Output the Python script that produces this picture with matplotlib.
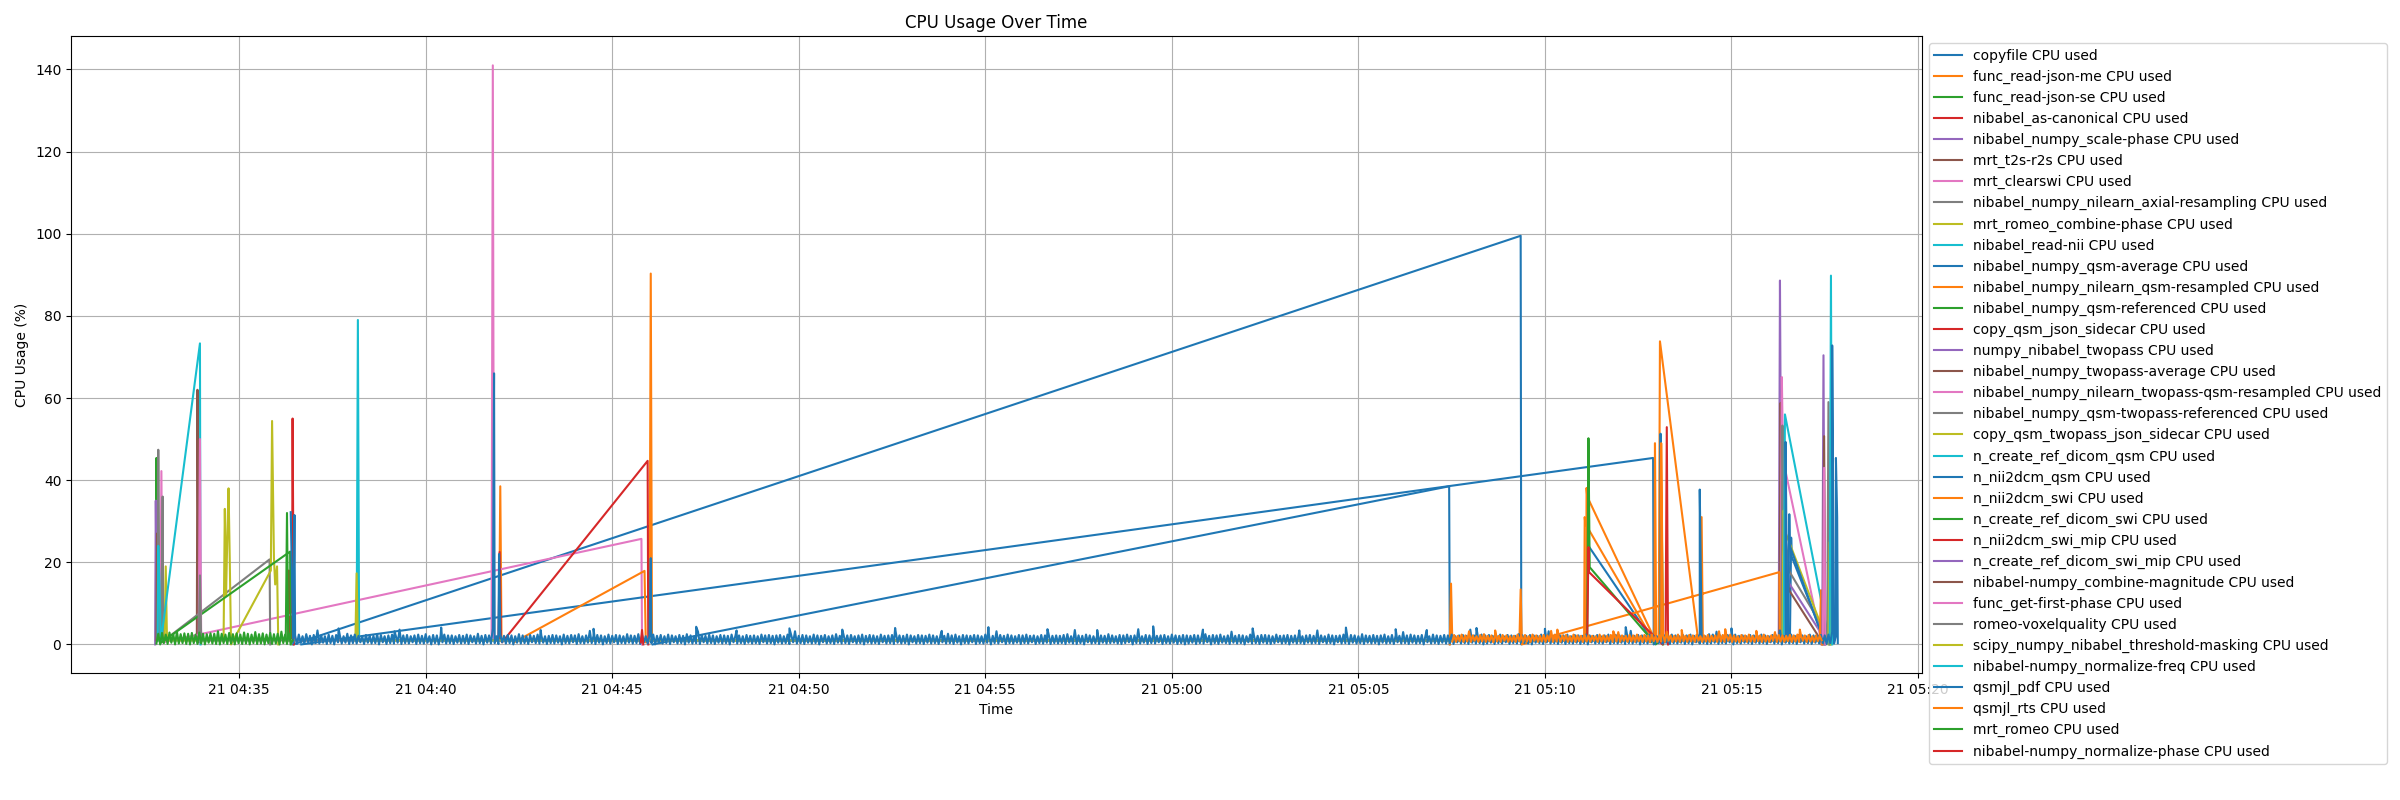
import matplotlib
matplotlib.use("Agg")
import matplotlib.pyplot as plt
import pandas as pd

DAY = "2024-05-21 "

series_names = [
    "copyfile", "func_read-json-me", "func_read-json-se", "nibabel_as-canonical",
    "nibabel_numpy_scale-phase", "mrt_t2s-r2s", "mrt_clearswi",
    "nibabel_numpy_nilearn_axial-resampling", "mrt_romeo_combine-phase",
    "nibabel_read-nii", "nibabel_numpy_qsm-average",
    "nibabel_numpy_nilearn_qsm-resampled", "nibabel_numpy_qsm-referenced",
    "copy_qsm_json_sidecar", "numpy_nibabel_twopass", "nibabel_numpy_twopass-average",
    "nibabel_numpy_nilearn_twopass-qsm-resampled", "nibabel_numpy_qsm-twopass-referenced",
    "copy_qsm_twopass_json_sidecar", "n_create_ref_dicom_qsm", "n_nii2dcm_qsm",
    "n_nii2dcm_swi", "n_create_ref_dicom_swi", "n_nii2dcm_swi_mip",
    "n_create_ref_dicom_swi_mip", "nibabel-numpy_combine-magnitude",
    "func_get-first-phase", "romeo-voxelquality",
    "scipy_numpy_nibabel_threshold-masking", "nibabel-numpy_normalize-freq",
    "qsmjl_pdf", "qsmjl_rts", "mrt_romeo", "nibabel-numpy_normalize-phase",
]

copyfile_t = ["04:36:27", "05:09:21", "05:09:22", "05:09:23", "05:11:07", "05:11:09", "05:11:10", "05:12:53"]
copyfile_v = [0.0, 99.5, 0.0, 1.0, 1.0, 25.3, 24.0, 1.0]

json_me_t = ["04:41:58", "04:42:00", "04:42:02", "05:11:06", "05:11:07", "05:11:08", "05:12:58"]
json_me_v = [1.0, 38.5, 1.0, 1.0, 38.1, 36.0, 0.8]

json_se_t = ["04:32:46", "04:32:47", "04:32:49"]
json_se_v = [1.0, 45.4, 1.5]

canonical_t = ["04:36:19", "04:36:20", "04:36:22", "04:36:25", "04:36:26", "04:36:28"]
canonical_v = [1.0, 18.0, 1.0, 1.0, 55.0, 0.0]

scale_phase_t = ["04:32:45", "04:32:46", "04:32:48"]
scale_phase_v = [0.0, 35.0, 1.0]

t2s_t = ["04:32:47", "04:32:48", "04:32:50", "04:33:52", "04:33:53", "04:33:55"]
t2s_v = [1.0, 27.0, 1.0, 1.0, 62.0, 0.5]

clearswi_t = ["04:32:53", "04:32:55", "04:32:57", "04:45:47", "04:45:48"]
clearswi_v = [0.5, 42.2, 0.5, 25.7, 0.0]

axial_t = ["04:32:49", "04:32:50", "04:32:52", "04:32:55", "04:32:57", "04:32:58", "04:35:49", "04:35:50"]
axial_v = [1.0, 47.4, 3.0, 1.0, 36.0, 0.8, 20.7, 0.0]

combine_phase_t = ["04:33:00", "04:33:02", "04:33:04", "04:34:35", "04:34:37", "04:34:39",
                   "04:34:41", "04:34:43", "04:34:45", "04:34:47", "04:35:51", "04:35:53",
                   "04:35:56", "04:35:58", "04:36:01", "04:36:03"]
combine_phase_v = [1.0, 19.0, 1.0, 1.0, 33.0, 12.0, 26.0, 38.0, 20.0, 0.0, 18.0, 54.4,
                   21.0, 14.6, 19.0, 0.0]

read_nii_t = ["04:32:49", "04:32:50", "04:32:52", "04:32:54", "04:33:57", "04:33:58"]
read_nii_v = [1.0, 24.0, 15.0, 0.5, 73.3, 0.0]

qsm_average_t = ["04:36:40", "05:12:54", "05:12:55", "05:12:56", "05:16:34", "05:16:36", "05:16:37", "05:17:30"]
qsm_average_v = [0.0, 45.4, 0.0, 1.0, 1.0, 26.0, 21.3, 1.0]

qsm_resampled_t = ["04:42:22", "04:45:52", "04:45:54", "04:46:00", "04:46:02", "04:46:04",
                   "05:11:03", "05:11:04", "05:11:05", "05:12:56", "05:12:57", "05:12:59"]
qsm_resampled_v = [0.5, 17.9, 0.5, 1.0, 90.3, 1.0, 1.0, 31.0, 29.4, 0.5, 49.0, 1.0]

qsm_referenced_t = ["04:32:55", "04:36:22", "04:36:23"]
qsm_referenced_v = [0.5, 22.6, 0.0]

qsm_sidecar_t = ["04:41:57", "04:41:59", "04:42:01", "04:42:03", "04:45:57", "04:45:58"]
qsm_sidecar_v = [1.0, 22.5, 1.0, 0.5, 44.7, 0.0]

twopass_t = ["05:16:16", "05:16:18", "05:16:20", "05:16:33", "05:17:28", "05:17:29"]
twopass_v = [1.0, 88.6, 30.0, 14.8, 1.8, 0.0]

twopass_avg_t = ["05:16:17", "05:16:19", "05:16:21", "05:16:33", "05:17:24", "05:17:25"]
twopass_avg_v = [1.0, 58.8, 25.0, 13.1, 1.0, 0.0]

twopass_resampled_t = ["05:16:19", "05:16:21", "05:16:23", "05:17:25", "05:17:26"]
twopass_resampled_v = [1.0, 65.1, 45.0, 0.5, 0.0]

twopass_referenced_t = ["05:16:20", "05:16:22", "05:16:24", "05:16:33", "05:17:25", "05:17:27"]
twopass_referenced_v = [1.0, 53.3, 30.0, 17.8, 4.6, 0.0]

twopass_sidecar_t = ["05:16:22", "05:16:24", "05:16:25", "05:17:36"]
twopass_sidecar_v = [1.0, 32.6, 28.0, 0.0]

ref_dicom_qsm_t = ["04:38:09", "04:38:11", "04:38:13", "05:16:24", "05:16:26", "05:17:38"]
ref_dicom_qsm_v = [1.0, 79.0, 1.0, 1.0, 56.0, 0.0]

nii2dcm_qsm_t = ["04:46:05", "05:07:26", "05:07:27", "05:07:28", "05:16:31", "05:16:33", "05:16:34", "05:17:28"]
nii2dcm_qsm_v = [0.0, 38.5, 0.0, 1.0, 1.0, 31.7, 24.0, 1.0]

nii2dcm_swi_t = ["05:07:27", "05:07:29", "05:07:31", "05:09:19", "05:09:21", "05:09:23",
                 "05:16:17", "05:16:18", "05:13:03", "05:13:05", "05:14:07", "05:14:10",
                 "05:14:12", "05:14:14", "05:17:22", "05:17:24", "05:17:26"]
nii2dcm_swi_v = [0.0, 14.8, 1.0, 1.0, 13.4, 0.0, 17.6, 0.8, 1.0, 73.8, 0.5, 1.0,
                 31.0, 1.0, 1.0, 13.2, 0.0]

ref_dicom_swi_t = ["04:36:15", "04:36:17", "04:36:19", "05:11:08", "05:11:10", "05:11:12",
                   "05:12:58", "05:13:06", "05:13:08", "05:13:10"]
ref_dicom_swi_v = [1.0, 32.0, 1.0, 1.0, 50.2, 18.8, 0.0, 1.0, 28.6, 0.0]

nii2dcm_swi_mip_t = ["05:11:08", "05:11:10", "05:11:11", "05:13:09", "05:13:14", "05:13:16", "05:13:18"]
nii2dcm_swi_mip_v = [1.0, 23.7, 17.6, 0.0, 1.0, 52.9, 0.0]

ref_dicom_swi_mip_t = ["05:17:26", "05:17:28", "05:17:30"]
ref_dicom_swi_mip_v = [1.0, 70.4, 0.0]

combine_mag_t = ["05:17:27", "05:17:29", "05:17:31"]
combine_mag_v = [1.0, 50.7, 0.0]

first_phase_t = ["04:33:55", "04:33:57", "04:33:59", "04:41:46", "04:41:48", "04:41:50",
                 "05:17:27", "05:17:29", "05:17:31"]
first_phase_v = [1.0, 50.0, 1.0, 1.0, 141.0, 1.0, 1.0, 43.0, 0.0]

voxelquality_t = ["04:33:55", "04:33:57", "04:33:59", "05:17:34", "05:17:36", "05:17:38"]
voxelquality_v = [1.0, 16.8, 1.0, 1.0, 59.0, 0.0]

masking_t = ["04:38:07", "04:38:09", "04:38:11", "05:17:36", "05:17:38", "05:17:40"]
masking_v = [1.0, 17.3, 1.0, 1.0, 24.9, 0.0]

normalize_freq_t = ["05:17:38", "05:17:40", "05:17:42"]
normalize_freq_v = [1.0, 89.8, 0.0]

# qsmjl_pdf: samples every 3 s from 04:36:27, plus peaks
pdf_band_start = "04:36:27"
pdf_band_step_s = 3
pdf_band_v = [
    0.3, 2.2, 0.1, 2.4, 0.4, 2.0, 0.2, 2.5, 0.5, 2.1, 0.0, 2.3, 0.3, 3.4, 0.2, 2.2, 0.4, 2.0, 0.1, 2.4,
    0.3, 2.1, 0.0, 2.3, 0.5, 2.2, 0.2, 2.0, 0.4, 2.6, 0.1, 2.2, 0.3, 2.4, 0.2, 2.1, 0.5, 2.0, 0.1, 2.3,
    0.4, 2.2, 0.2, 2.1, 0.3, 2.5, 0.0, 2.3, 0.5, 2.0, 0.1, 2.2, 0.3, 2.4, 0.2, 2.1, 0.4, 3.6, 0.1, 2.2,
    0.3, 2.3, 0.2, 2.0, 0.5, 2.2, 0.1, 2.4, 0.3, 2.1, 0.2, 2.5, 0.4, 2.0, 0.0, 2.3, 0.3, 2.2, 0.0, 2.1,
    0.5, 2.4, 0.2, 2.2, 0.3, 2.2, 0.1, 2.0, 0.4, 2.3, 0.2, 2.1, 0.3, 2.4, 0.1, 2.2, 0.5, 2.0, 0.2, 2.6,
    0.3, 2.1, 0.0, 2.3, 0.4, 2.2, 0.2, 3.8, 0.3, 2.0, 0.1, 2.4, 0.5, 2.1, 0.2, 2.3, 0.3, 2.2, 0.0, 2.0,
    0.4, 2.5, 0.2, 2.2, 0.3, 2.0, 0.1, 2.3, 0.5, 2.1, 0.3, 2.4, 0.2, 2.2, 0.4, 2.0, 0.1, 2.1, 0.3, 2.3,
    0.2, 2.2, 0.4, 2.0, 0.0, 2.4, 0.3, 2.1, 0.2, 2.3, 0.5, 2.2, 0.1, 2.5, 0.3, 2.0, 0.2, 2.2, 0.4, 3.3,
    0.3, 2.1, 0.1, 2.3, 0.4, 2.2, 0.0, 2.0, 0.3, 2.4, 0.2, 2.1, 0.5, 2.3, 0.1, 2.2, 0.3, 2.0, 0.2, 2.5,
    0.4, 2.2, 0.2, 2.1, 0.3, 2.5, 0.1, 2.3, 0.5, 2.0, 0.2, 2.2, 0.3, 2.4, 0.0, 2.1, 0.4, 2.3, 0.2, 2.0,
    0.3, 2.4, 0.1, 2.2, 0.5, 2.0, 0.2, 2.3, 0.3, 2.1, 0.0, 2.5, 0.4, 2.2, 0.2, 2.0, 0.3, 3.1, 0.1, 2.3,
    0.5, 2.1, 0.2, 2.4, 0.3, 2.2, 0.1, 2.0, 0.4, 2.3, 0.2, 2.2, 0.3, 2.1, 0.0, 2.4, 0.5, 2.0, 0.2, 2.2,
    0.3, 2.0, 0.1, 2.3, 0.4, 2.1, 0.2, 2.2, 0.3, 2.0, 0.1, 2.4, 0.5, 2.2, 0.2, 2.3, 0.3, 2.1, 0.0, 2.2,
    0.4, 2.3, 0.2, 2.0, 0.3, 2.4, 0.1, 2.2, 0.5, 3.2, 0.2, 2.1, 0.3, 2.3, 0.1, 2.2, 0.4, 2.0, 0.2, 2.4,
    0.3, 2.2, 0.0, 2.1, 0.5, 2.3, 0.2, 2.0, 0.3, 2.2, 0.1, 2.5, 0.4, 2.1, 0.2, 2.4, 0.3, 2.2, 0.1, 2.3,
    0.5, 2.0, 0.2, 2.2, 0.3, 2.4, 0.0, 2.1, 0.4, 2.3, 0.2, 2.2, 0.3, 2.0, 0.1, 2.4, 0.5, 2.1, 0.2, 2.2,
    0.3, 2.3, 0.1, 3.0, 0.4, 2.2, 0.2, 2.1, 0.3, 2.4, 0.0, 2.2, 0.5, 2.0, 0.2, 2.3, 0.3, 2.2, 0.1, 2.1,
    0.4, 2.4, 0.2, 2.2, 0.3, 2.0, 0.1, 2.3, 0.5, 2.1, 0.2, 2.6, 0.3, 2.2, 0.1, 2.4, 0.4, 2.0, 0.0, 2.3,
    0.3, 2.2, 0.2, 2.1, 0.5, 2.3, 0.1, 2.2, 0.3, 2.0, 0.2, 2.4, 0.4, 2.2, 0.0, 2.1, 0.3, 3.2, 0.2, 2.3,
    0.5, 2.1, 0.1, 2.4, 0.3, 2.2, 0.2, 2.0, 0.4, 2.3, 0.1, 2.2, 0.3, 2.4, 0.2, 2.1, 0.5, 2.2, 0.1, 2.0,
    0.3, 2.3, 0.2, 2.2, 0.4, 2.4, 0.1, 2.1, 0.3, 2.2, 0.2, 2.1, 0.3, 2.3, 0.1, 2.5, 0.4, 2.0, 0.2, 3.5,
    0.1, 2.2, 0.3, 2.1, 0.0, 2.4, 0.5, 2.2, 0.2, 2.0, 0.3, 2.3, 0.1, 2.2, 0.4, 2.1, 0.2, 2.5, 0.3, 2.2,
    0.4, 2.0, 0.2, 2.3, 0.1, 2.2, 0.3, 2.4, 0.5, 2.1, 0.0, 2.2, 0.3, 3.7, 0.2, 2.0, 0.4, 2.3, 0.1, 2.2,
    0.3, 2.4, 0.2, 2.1, 0.5, 2.2, 0.1, 2.3, 0.3, 2.0, 0.2, 2.4, 0.4, 2.2, 0.1, 2.1, 0.3, 2.3, 0.0, 2.2,
    0.2, 2.1, 0.4, 2.3, 0.1, 2.2, 0.3, 2.0, 0.2, 2.5, 0.5, 2.1, 0.0, 2.3, 0.3, 2.2, 0.1, 2.4, 0.4, 2.0,
    0.3, 2.2, 0.1, 3.1, 0.4, 2.1, 0.2, 2.3, 0.3, 2.2, 0.0, 2.0, 0.5, 2.4, 0.2, 2.2, 0.3, 2.1, 0.1, 2.3,
    0.4, 2.3, 0.2, 2.2, 0.1, 2.0, 0.3, 2.4, 0.5, 2.1, 0.2, 2.2, 0.3, 2.3, 0.0, 2.1, 0.4, 2.2, 0.2, 2.4,
    0.3, 2.0, 0.1, 2.2, 0.4, 2.3, 0.2, 2.1, 0.3, 3.4, 0.1, 2.2, 0.5, 2.0, 0.2, 2.4, 0.3, 2.2, 0.0, 2.1,
    0.5, 2.2, 0.2, 2.4, 0.3, 2.1, 0.1, 2.3, 0.4, 2.2, 0.2, 2.0, 0.3, 2.5, 0.1, 2.2, 0.4, 2.1, 0.2, 2.3,
    0.3, 2.1, 0.0, 2.2, 0.4, 2.4, 0.2, 2.0, 0.3, 2.3, 0.1, 2.2, 0.5, 2.1, 0.2, 3.0, 0.3, 2.2, 0.1, 2.4,
    0.4, 2.2, 0.2, 2.1, 0.3, 2.3, 0.0, 2.2, 0.5, 2.0, 0.2, 2.4, 0.3, 2.2, 0.1, 2.1, 0.4, 2.3, 0.2, 2.2,
    0.3, 2.4, 0.1, 2.0, 0.5, 2.2, 0.2, 2.3, 0.3, 2.1, 0.1, 3.6, 0.4, 2.2, 0.2, 2.0, 0.3, 2.4, 0.0, 2.2,
    0.2, 2.3, 0.4, 2.1, 0.1, 2.2, 0.3, 2.4, 0.2, 2.0, 0.5, 2.3, 0.1, 2.2, 0.3, 2.1, 0.2, 2.5, 0.4, 2.2,
    0.3, 2.1, 0.2, 2.3, 0.0, 2.2, 0.4, 2.1, 0.3, 2.4, 0.1, 2.2, 0.5, 3.2, 0.2, 2.0, 0.3, 2.3, 0.1, 2.2,
    0.4, 2.2, 0.1, 2.4, 0.3, 2.0, 0.2, 2.3, 0.4, 2.2, 0.1, 2.1, 0.3, 2.4, 0.0, 2.2, 0.5, 2.1, 0.2, 2.3,
    0.3, 2.0, 0.2, 2.2, 0.5, 2.4, 0.1, 2.1, 0.3, 2.3, 0.2, 2.2, 0.4, 2.0, 0.1, 2.4, 0.3, 3.3, 0.2, 2.1,
    0.4, 2.3, 0.0, 2.2, 0.3, 2.1, 0.2, 2.4, 0.5, 2.2, 0.1, 2.0, 0.3, 2.3, 0.2, 2.2, 0.4, 2.1, 0.1, 2.4,
    0.3, 2.2, 0.2, 2.0, 0.4, 2.3, 0.1, 2.2, 0.3, 2.4, 0.0, 2.1, 0.5, 2.2, 0.2, 2.3, 0.3, 2.0, 0.1, 2.5,
    0.2, 2.4, 0.4, 3.1, 0.1, 2.2, 0.3, 2.1, 0.2, 2.3, 0.5, 2.2, 0.0, 2.4, 0.3, 2.1, 0.2, 2.2, 0.4, 2.0,
    0.3, 2.3, 0.1, 2.2, 0.4, 2.1, 0.2, 2.4, 0.3, 2.2, 0.1, 2.0, 0.5, 2.3, 0.2, 2.2, 0.3, 3.4, 0.0, 2.1,
    0.4, 2.2, 0.2, 2.4, 0.3, 2.1, 0.1, 2.3, 0.5, 2.2, 0.2, 2.0, 0.3, 2.4, 0.1, 2.2, 0.4, 2.1, 0.2, 2.3,
    0.3, 2.2, 0.1, 2.4, 0.3, 3.1, 0.2, 2.1, 0.3,
]
pdf_peak_t = ["04:36:23", "04:36:29", "04:37:40", "04:39:10", "04:40:25", "04:41:50",
              "04:41:58", "04:43:05", "04:44:30", "04:46:02", "04:47:15", "04:48:20",
              "04:49:45", "04:51:10", "04:52:35", "04:53:50", "04:55:05", "04:56:40",
              "04:58:00", "04:59:30", "05:00:50", "05:02:10", "05:03:25", "05:04:40",
              "05:06:00", "05:06:50", "05:08:10", "05:10:00", "05:12:10", "05:13:06",
              "05:14:09", "05:15:00", "05:16:27", "05:17:42", "05:17:48", "05:17:50"]
pdf_peak_v = [32.2, 31.5, 3.9, 3.2, 4.1, 66.0,
              22.0, 3.5, 3.8, 21.0, 4.3, 3.4,
              3.9, 3.6, 4.0, 3.3, 4.2, 3.7,
              3.5, 4.4, 3.6, 3.9, 3.4, 4.1,
              3.7, 3.5, 4.0, 3.8, 4.2, 51.3,
              37.7, 3.9, 49.3, 72.8, 45.4, 31.0]

# qsmjl_rts: samples every 3 s from 05:07:31, plus peaks
rts_band_start = "05:07:31"
rts_band_step_s = 3
rts_band_v = [
    0.7, 2.3, 0.6, 2.1, 0.8, 2.4, 0.6, 2.2, 0.7, 3.2, 0.6, 2.2, 0.9, 2.0, 0.6, 2.3, 0.7, 2.5, 0.6, 2.1,
    0.8, 2.2, 0.5, 2.4, 0.7, 2.1, 0.6, 2.3, 0.9, 2.2, 0.6, 2.0, 0.7, 2.1, 0.6, 2.4, 0.8, 2.2, 0.6, 2.3,
    0.7, 2.0, 0.6, 2.4, 0.9, 2.2, 0.6, 2.1, 0.7, 2.3, 0.6, 2.2, 0.8, 3.3, 0.6, 2.4, 0.7, 2.1, 0.6, 2.2,
    0.9, 2.3, 0.6, 2.0, 0.7, 2.4, 0.6, 2.2, 0.8, 2.1, 0.6, 2.3, 0.7, 2.2, 0.6, 2.1, 0.9, 2.0, 0.6, 2.4,
    0.7, 2.2, 0.6, 2.1, 0.8, 2.3, 0.6, 2.4, 0.7, 3.0, 0.6, 2.2, 0.9, 2.1, 0.6, 2.3, 0.7, 2.2, 0.6, 2.4,
    0.8, 2.1, 0.6, 2.3, 0.7, 2.2, 0.5, 2.4, 0.8, 2.0, 0.6, 2.2, 0.7, 2.3, 0.6, 3.1, 0.9, 2.2, 0.6, 2.1,
    0.7, 2.4, 0.6, 2.2, 0.8, 2.1, 0.6, 2.3, 0.7, 2.2, 0.6, 2.4, 0.9, 2.0, 0.6, 2.2, 0.7, 2.3, 0.6, 2.1,
    0.8, 2.2, 0.6, 3.2, 0.7, 2.3, 0.6, 2.1, 0.9, 2.4, 0.6, 2.2, 0.7, 2.0, 0.5, 2.3, 0.8, 2.2, 0.6, 2.4,
    0.7, 2.1, 0.6, 2.3, 0.8, 2.2, 0.6, 2.4, 0.7, 2.1, 0.6, 2.2, 0.9, 3.0, 0.6, 2.3, 0.7, 2.2, 0.6, 2.1,
    0.8, 2.3, 0.6, 2.2, 0.7, 2.4, 0.6, 2.1, 0.9, 2.2, 0.6, 2.3, 0.7, 2.0, 0.6, 2.2, 0.8, 2.1, 1.0,
]
rts_peak_t = ["05:08:40", "05:10:20", "05:11:50", "05:13:07", "05:13:40", "05:14:50",
              "05:15:40", "05:16:50"]
rts_peak_v = [3.4, 3.6, 3.2, 49.0, 3.5, 3.7, 3.3, 3.6]

# mrt_romeo: samples every 3 s from 04:32:47
romeo_band_start = "04:32:47"
romeo_band_step_s = 3
romeo_band_v = [
    0.2, 2.6, 0.0, 2.8, 0.3, 2.4, 0.1, 2.9, 0.4, 2.6, 0.0, 3.1, 0.2, 2.5, 0.3, 2.7, 0.1, 2.6, 0.0, 2.8,
    0.3, 2.4, 0.1, 2.9, 0.2, 2.6, 0.0, 2.5, 0.4, 2.7, 0.2, 2.6, 0.1, 3.2, 0.0, 2.6, 0.3, 2.4, 0.1, 2.8,
    0.2, 2.5, 0.0, 2.7, 0.3, 2.4, 0.1, 2.9, 0.2, 2.6, 0.0, 2.4, 0.3, 3.0, 0.1, 2.5, 0.2, 2.7, 0.0, 2.4,
    0.3, 2.8, 0.1, 2.5, 0.2, 2.6, 0.0, 3.1, 0.3, 2.4, 0.1, 2.7, 0.2, 1.0,
]
romeo_peak_t = []
romeo_peak_v = []

normalize_phase_t = ["04:45:46", "04:45:48", "04:45:50"]
normalize_phase_v = [0.5, 3.5, 0.0]


def to_times(strings):
    return pd.to_datetime([DAY + s for s in strings])


def band_series(start, step_s, values, peak_t, peak_v):
    times = pd.Timestamp(DAY + start) + pd.to_timedelta(
        [i * step_s for i in range(len(values))], unit="s")
    df = pd.concat([
        pd.DataFrame({"t": times, "v": values}),
        pd.DataFrame({"t": to_times(peak_t), "v": peak_v}),
    ]).sort_values("t", kind="mergesort")
    return df["t"].to_numpy(), df["v"].to_numpy()


simple = {
    0: (copyfile_t, copyfile_v), 1: (json_me_t, json_me_v), 2: (json_se_t, json_se_v),
    3: (canonical_t, canonical_v), 4: (scale_phase_t, scale_phase_v), 5: (t2s_t, t2s_v),
    6: (clearswi_t, clearswi_v), 7: (axial_t, axial_v), 8: (combine_phase_t, combine_phase_v),
    9: (read_nii_t, read_nii_v), 10: (qsm_average_t, qsm_average_v),
    11: (qsm_resampled_t, qsm_resampled_v), 12: (qsm_referenced_t, qsm_referenced_v),
    13: (qsm_sidecar_t, qsm_sidecar_v), 14: (twopass_t, twopass_v),
    15: (twopass_avg_t, twopass_avg_v), 16: (twopass_resampled_t, twopass_resampled_v),
    17: (twopass_referenced_t, twopass_referenced_v),
    18: (twopass_sidecar_t, twopass_sidecar_v), 19: (ref_dicom_qsm_t, ref_dicom_qsm_v),
    20: (nii2dcm_qsm_t, nii2dcm_qsm_v), 21: (nii2dcm_swi_t, nii2dcm_swi_v),
    22: (ref_dicom_swi_t, ref_dicom_swi_v), 23: (nii2dcm_swi_mip_t, nii2dcm_swi_mip_v),
    24: (ref_dicom_swi_mip_t, ref_dicom_swi_mip_v), 25: (combine_mag_t, combine_mag_v),
    26: (first_phase_t, first_phase_v), 27: (voxelquality_t, voxelquality_v),
    28: (masking_t, masking_v), 29: (normalize_freq_t, normalize_freq_v),
    33: (normalize_phase_t, normalize_phase_v),
}
bands = {
    30: (pdf_band_start, pdf_band_step_s, pdf_band_v, pdf_peak_t, pdf_peak_v),
    31: (rts_band_start, rts_band_step_s, rts_band_v, rts_peak_t, rts_peak_v),
    32: (romeo_band_start, romeo_band_step_s, romeo_band_v, romeo_peak_t, romeo_peak_v),
}

fig = plt.figure(figsize=(24, 8), dpi=100)
ax = fig.add_axes([0.0296, 0.1583, 0.8008 - 0.0296, 0.9545 - 0.1583])

for i, name in enumerate(series_names):
    if i in bands:
        x, y = band_series(*bands[i])
    else:
        t, y = simple[i]
        x = to_times(t)
    ax.plot(x, y, label=f"{name} CPU used")

ax.set_title("CPU Usage Over Time")
ax.set_xlabel("Time")
ax.set_ylabel("CPU Usage (%)")
ax.grid(True)
ax.legend(loc="upper left", bbox_to_anchor=(1, 1))

fig.savefig("out.png", dpi=100)
